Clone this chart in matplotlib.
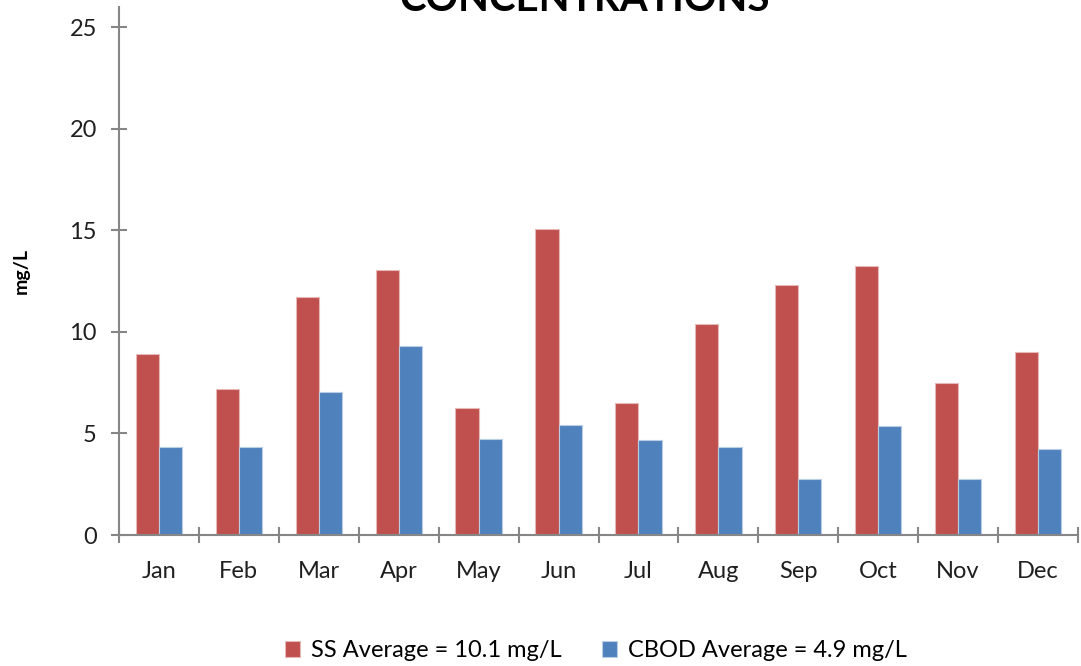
import numpy as np
import matplotlib
matplotlib.use("Agg")
import matplotlib.pyplot as plt

# Monthly effluent concentrations (mg/L)
months = ['Jan', 'Feb', 'Mar', 'Apr', 'May', 'Jun', 'Jul', 'Aug', 'Sep', 'Oct', 'Nov', 'Dec']
ss_values = [8.9, 7.2, 11.7, 13.05, 6.25, 15.05, 6.5, 10.4, 12.3, 13.23, 7.5, 9.0]
cbod_values = [4.33, 4.33, 7.05, 9.33, 4.71, 5.4, 4.67, 4.33, 2.76, 5.35, 2.76, 4.22]
ss_label = 'SS Average = 10.1 mg/L'
cbod_label = 'CBOD Average = 4.9 mg/L'
y_ticks = [0, 5, 10, 15, 20, 25]

plt.rcParams['font.family'] = ['Lato', 'DejaVu Sans']

fig = plt.figure(figsize=(10.81, 6.66), dpi=100)
ax = fig.add_axes([119 / 1081, 1 - 535 / 666, (1078 - 119) / 1081, (535 - 7) / 666])

x = np.arange(len(months))
width = 0.29
ax.bar(x - width / 2, ss_values, width, color='#C0504D', edgecolor='#E6B9B8', linewidth=0.8, label=ss_label)
ax.bar(x + width / 2, cbod_values, width, color='#4F81BD', edgecolor='#B9CDE5', linewidth=0.8, label=cbod_label)

ax.set_xlim(-0.5, len(months) - 0.5)
ax.set_ylim(0, 26)
ax.set_yticks(y_ticks)
ax.set_yticklabels([str(v) for v in y_ticks], fontsize=17, color='#202020')

# category labels at centres, tick marks at category boundaries
ax.set_xticks(x)
ax.set_xticklabels(months, fontsize=17, color='#202020')
ax.set_xticks(np.arange(-0.5, len(months)), minor=True)
ax.tick_params(axis='x', which='major', length=0, pad=19)
ax.tick_params(axis='x', which='minor', direction='inout', length=11.5, width=1.5, color='#868686')
ax.tick_params(axis='y', which='major', direction='inout', length=12, width=1.5, color='#868686', pad=10)

for side in ['top', 'right']:
    ax.spines[side].set_visible(False)
for side in ['left', 'bottom']:
    ax.spines[side].set_color('#868686')
    ax.spines[side].set_linewidth(1.5)

ax.set_ylabel('mg/L', fontsize=14, fontweight='bold')
ax.yaxis.set_label_coords(-0.093, 0.5)

# title (top of it runs off the image, as in the reference)
fig.text(0.541, 1 - 11 / 666, 'CONCENTRATIONS', ha='center', va='baseline',
         fontsize=29, fontweight='bold', color='black')

ax.legend(loc='center', bbox_to_anchor=(0.497, -0.219), ncol=2, frameon=False,
          fontsize=17, handlelength=0.65, handleheight=0.65, handletextpad=0.45,
          columnspacing=1.7)

fig.savefig('out.png', dpi=100)
